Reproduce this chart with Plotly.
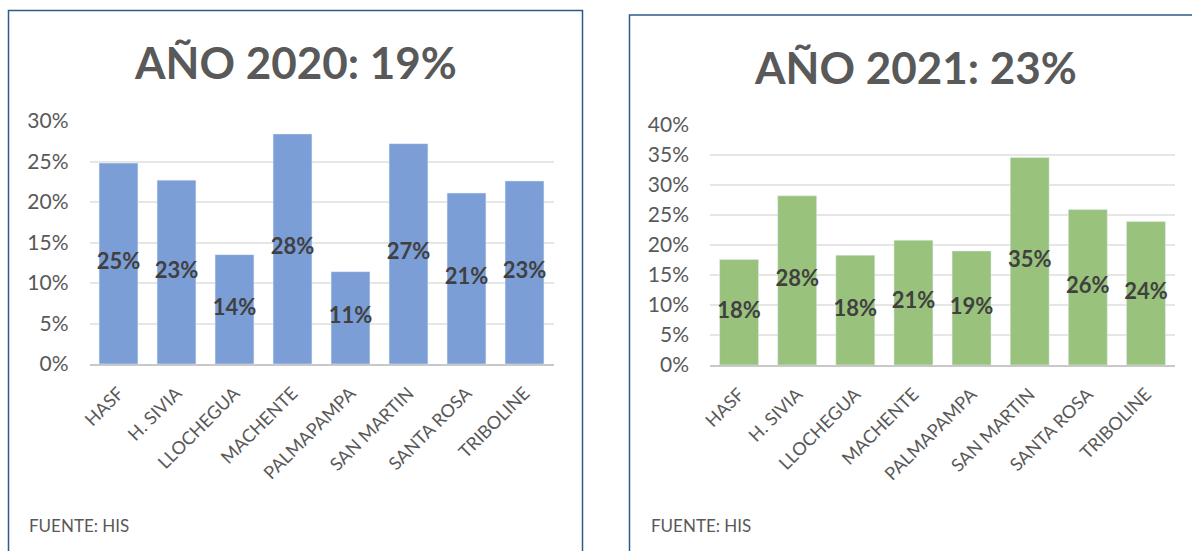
import plotly.graph_objects as go

categories = ["HASF", "H. SIVIA", "LLOCHEGUA", "MACHENTE", "PALMAPAMPA",
              "SAN MARTIN", "SANTA ROSA", "TRIBOLINE"]
values_2020 = [0.248, 0.227, 0.135, 0.284, 0.114, 0.272, 0.211, 0.226]
values_2021 = [0.176, 0.282, 0.183, 0.208, 0.190, 0.346, 0.259, 0.239]
title_2020 = "AÑO 2020: 19%"
title_2021 = "AÑO 2021: 23%"
source_text = "FUENTE: HIS"
y_ticks_2020 = [0, 0.05, 0.10, 0.15, 0.20, 0.25, 0.30]
y_ticks_2021 = [0, 0.05, 0.10, 0.15, 0.20, 0.25, 0.30, 0.35, 0.40]

W, H = 1192, 551
FONT = "Lato"
GRAY = "#595959"
BLUE = "#7B9ED6"
GREEN = "#99C27C"
BORDER = "#2B5C8C"


def px(x):
    return x / W


def py(y):
    return 1 - y / H


fig = go.Figure()

fig.add_trace(go.Bar(x=categories, y=values_2020, marker_color=BLUE,
                     xaxis="x", yaxis="y", showlegend=False, hoverinfo="x+y"))
fig.add_trace(go.Scatter(x=categories, y=[v / 2 for v in values_2020], mode="text",
                         text=[f"<b>{round(v * 100)}%</b>" for v in values_2020],
                         textfont=dict(family=FONT, size=22, color="#404040"),
                         xaxis="x", yaxis="y", showlegend=False, hoverinfo="skip"))
fig.add_trace(go.Bar(x=categories, y=values_2021, marker_color=GREEN,
                     xaxis="x2", yaxis="y2", showlegend=False, hoverinfo="x+y"))
fig.add_trace(go.Scatter(x=categories, y=[v / 2 for v in values_2021], mode="text",
                         text=[f"<b>{round(v * 100)}%</b>" for v in values_2021],
                         textfont=dict(family=FONT, size=22, color="#404040"),
                         xaxis="x2", yaxis="y2", showlegend=False, hoverinfo="skip"))

xcommon = dict(tickangle=-45, tickfont=dict(family=FONT, size=18, color=GRAY),
               showline=True, linecolor="#C8C8C8", linewidth=1.5, ticks="",
               showgrid=False, fixedrange=True, automargin=False,
               ticklabelstandoff=10)
ycommon = dict(tickformat=".0%", tickfont=dict(family=FONT, size=21, color=GRAY),
               showgrid=True, gridcolor="#E6E6E6", gridwidth=1.5, zeroline=False,
               showline=False, ticks="", fixedrange=True, automargin=False,
               ticklabelstandoff=20)

fig.update_layout(
    width=W, height=H,
    margin=dict(l=0, r=0, t=0, b=0, autoexpand=False),
    paper_bgcolor="white", plot_bgcolor="white",
    bargap=0.33,
    xaxis=dict(domain=[px(89.5), px(553.5)], anchor="y", **xcommon),
    yaxis=dict(domain=[py(364), py(121)], range=[0, 0.30], tickvals=y_ticks_2020,
               anchor="x", **ycommon),
    xaxis2=dict(domain=[px(710), px(1175)], anchor="y2", **xcommon),
    yaxis2=dict(domain=[py(365), py(125)], range=[0, 0.40], tickvals=y_ticks_2021,
                anchor="x2", **ycommon),
    shapes=[
        dict(type="rect", xref="paper", yref="paper",
             x0=px(8.5), x1=px(582.5), y0=py(560), y1=py(10.5),
             line=dict(color=BORDER, width=1.5), fillcolor="rgba(0,0,0,0)"),
        dict(type="rect", xref="paper", yref="paper",
             x0=px(629.5), x1=px(1200), y0=py(560), y1=py(15),
             line=dict(color=BORDER, width=1.5), fillcolor="rgba(0,0,0,0)"),
    ],
    annotations=[
        dict(text=f"<b>{title_2020}</b>", xref="paper", yref="paper",
             x=px(295), y=py(62), xanchor="center", yanchor="middle", showarrow=False,
             font=dict(family=FONT, size=44, color=GRAY)),
        dict(text=f"<b>{title_2021}</b>", xref="paper", yref="paper",
             x=px(915), y=py(67), xanchor="center", yanchor="middle", showarrow=False,
             font=dict(family=FONT, size=44, color=GRAY)),
        dict(text=source_text, xref="paper", yref="paper",
             x=px(27), y=py(525), xanchor="left", yanchor="middle", showarrow=False,
             font=dict(family=FONT, size=17, color=GRAY)),
        dict(text=source_text, xref="paper", yref="paper",
             x=px(649), y=py(525), xanchor="left", yanchor="middle", showarrow=False,
             font=dict(family=FONT, size=17, color=GRAY)),
    ],
)

fig.write_html("out.html", config={"displayModeBar": False},
               post_script="document.body.style.margin='0';document.body.style.overflow='hidden';")
